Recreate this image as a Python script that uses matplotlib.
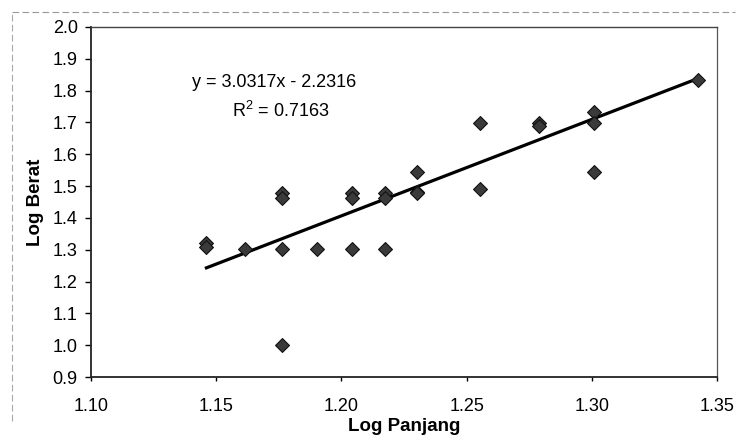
import matplotlib.pyplot as plt
from matplotlib.lines import Line2D

plt.rcParams['font.family'] = ['Liberation Sans', 'DejaVu Sans']

# log of length (panjang) and log of weight (berat)
log_panjang = [1.1461, 1.1461, 1.1614, 1.1761, 1.1761, 1.1761, 1.1761,
               1.1903, 1.2041, 1.2041, 1.2041, 1.2175, 1.2175, 1.2175,
               1.2304, 1.2304, 1.2304, 1.2553, 1.2553, 1.2788, 1.2788,
               1.3010, 1.3010, 1.3010, 1.3424]
log_berat = [1.3222, 1.3101, 1.3010, 1.4771, 1.4624, 1.3010, 1.0000,
             1.3010, 1.4771, 1.4624, 1.3010, 1.4771, 1.4624, 1.3010,
             1.5441, 1.4829, 1.4771, 1.6990, 1.4914, 1.6990, 1.6902,
             1.7324, 1.6990, 1.5441, 1.8325]

slope = 3.0317
intercept = -2.2316
r2 = 0.7163

fig = plt.figure(figsize=(7.39, 4.41), dpi=100)
ax = fig.add_axes([0.1231, 0.1451, 0.8471, 0.7937])

ax.scatter(log_panjang, log_berat, marker='D', s=50, color='#3a3a3a',
           edgecolors='#111111', linewidths=0.8, zorder=3)

xfit = [min(log_panjang), max(log_panjang)]
yfit = [slope * v + intercept for v in xfit]
ax.plot(xfit, yfit, color='black', lw=2.3, zorder=2)

ax.text(1.1403, 1.827, 'y = %.4fx - %.4f' % (slope, -intercept), ha='left', va='center', fontsize=13)
ax.text(1.1563, 1.736, '$\\mathregular{R^2}$ = %.4f' % r2, ha='left', va='center', fontsize=13)

ax.set_xlim(1.10, 1.35)
ax.set_ylim(0.9, 2.0)
ax.set_xticks([1.10, 1.15, 1.20, 1.25, 1.30, 1.35])
ax.set_yticks([0.9, 1.0, 1.1, 1.2, 1.3, 1.4, 1.5, 1.6, 1.7, 1.8, 1.9, 2.0])
ax.xaxis.set_major_formatter(plt.FormatStrFormatter('%.2f'))
ax.yaxis.set_major_formatter(plt.FormatStrFormatter('%.1f'))
ax.tick_params(labelsize=13, width=1, direction='out')
ax.tick_params(axis='y', length=4.5, pad=5)
ax.tick_params(axis='x', length=3, pad=12)

ax.set_xlabel('Log Panjang', fontsize=13.5, fontweight='bold', labelpad=2)
ax.set_ylabel('Log Berat', fontsize=13.5, fontweight='bold', labelpad=6)

for side in ax.spines.values():
    side.set_linewidth(1.3)
    side.set_color('#222222')
ax.spines['right'].set_linewidth(0.9)
ax.spines['right'].set_color('#555555')
ax.spines['top'].set_linewidth(1.0)
ax.spines['top'].set_color('#444444')

# faint dashed frame of the scanned chart area
fig.add_artist(Line2D([0.016, 0.995], [0.972, 0.972], color='#999999', lw=0.8, ls=(0, (6, 3))))
fig.add_artist(Line2D([0.016, 0.016], [0.045, 0.972], color='#aaaaaa', lw=0.8, ls=(0, (6, 3))))

fig.savefig('out.png', dpi=100)
